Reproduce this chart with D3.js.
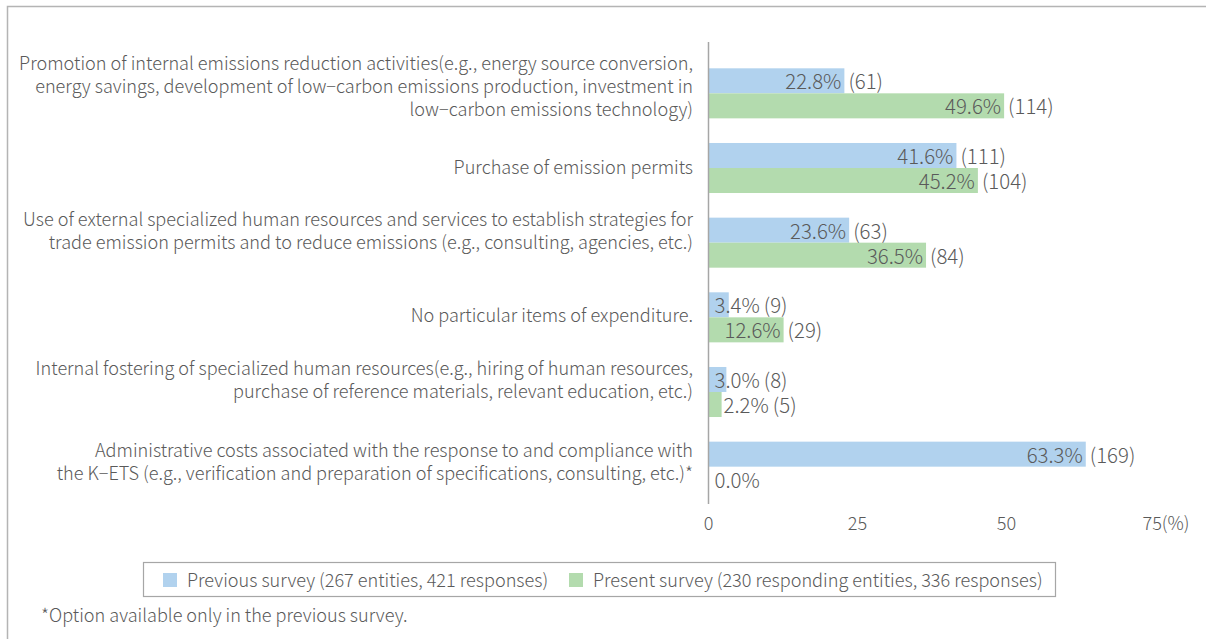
<!DOCTYPE html>
<html>
<head>
<meta charset="utf-8">
<script src="https://cdn.jsdelivr.net/npm/d3@7"></script>
<style>
  html, body { margin: 0; padding: 0; background: #fff; }
  svg { display: block; }
  text { font-family: "Noto Sans CJK KR", "Noto Sans", sans-serif; font-weight: 300; fill: #5a5a5a; }
</style>
</head>
<body>
<svg id="chart" width="1206" height="639"></svg>
<script>
// Expenditure items, top to bottom (each entry is a list of label lines)
const categories = [
  ["Promotion of internal emissions reduction activities(e.g., energy source conversion,",
   "energy savings, development of low\u2212carbon emissions production, investment in",
   "low\u2212carbon emissions technology)"],
  ["Purchase of emission permits"],
  ["Use of external specialized human resources and services to establish strategies for",
   "trade emission permits and to reduce emissions (e.g., consulting, agencies, etc.)"],
  ["No particular items of expenditure."],
  ["Internal fostering of specialized human resources(e.g., hiring of human resources,",
   "purchase of reference materials, relevant education, etc.)"],
  ["Administrative costs associated with the response to and compliance with",
   "the K\u2212ETS (e.g., verification and preparation of specifications, consulting, etc.)*"]
];

const seriesNames = [
  "Previous survey (267 entities, 421 responses)",
  "Present survey (230 responding entities, 336 responses)"
];

// Share of responses (%) and response counts
const previousPct   = [22.8, 41.6, 23.6, 3.4, 3.0, 63.3];
const previousCount = [61, 111, 63, 9, 8, 169];
const presentPct    = [49.6, 45.2, 36.5, 12.6, 2.2, 0.0];
const presentCount  = [114, 104, 84, 29, 5, null];

const xTicks = [0, 25, 50, 75];
const footnote = "*Option available only in the previous survey.";

const colors = ["#b1d2ee", "#b3dbae"];

const svg = d3.select("#chart");

// Outer frame (top and left edges)
svg.append("path")
  .attr("d", "M7.5,639 V6.5 H1206")
  .attr("fill", "none")
  .attr("stroke", "#b4b4b4")
  .attr("stroke-width", 1.5);

const x = d3.scaleLinear().domain([0, 75]).range([708.5, 1155.5]);
const y = d3.scaleBand().domain(d3.range(categories.length)).range([56, 504]).paddingInner(0.33).paddingOuter(0.165);
const sub = d3.scaleBand().domain([0, 1]).range([0, y.bandwidth()]);

const series = [
  { name: seriesNames[0], pct: previousPct, count: previousCount, color: colors[0] },
  { name: seriesNames[1], pct: presentPct, count: presentCount, color: colors[1] }
];

const fs = 18.1;      // category, axis, legend text
const vfs = 20.4;     // value labels

// Bars
series.forEach((s, si) => {
  svg.append("g").selectAll("rect")
    .data(s.pct)
    .join("rect")
    .attr("x", x(0))
    .attr("y", (d, i) => y(i) + sub(si))
    .attr("width", d => x(d) - x(0))
    .attr("height", sub.bandwidth())
    .attr("fill", s.color);
});

// Vertical axis line
svg.append("line")
  .attr("x1", x(0)).attr("x2", x(0))
  .attr("y1", 42).attr("y2", 504)
  .attr("stroke", "#a6a6a6")
  .attr("stroke-width", 1.5);

// Value labels: percentage at the bar end, response count after it
series.forEach((s, si) => {
  const g = svg.append("g");
  s.pct.forEach((v, i) => {
    const cy = y(i) + sub(si) + sub.bandwidth() / 2 + 8.5;
    const end = x(v);
    const w = end - x(0);
    const t = g.append("text")
      .attr("y", cy)
      .attr("font-size", vfs)
      .text(v.toFixed(1) + "%");
    const tw = t.node().getComputedTextLength();
    let tx;
    if (tw + 8 < w) {
      tx = end - 3 - tw;
    } else if (w >= 15) {
      tx = x(0) + 6;
    } else {
      tx = Math.max(end + 2, x(0) + 6);
    }
    t.attr("x", tx);
    if (s.count[i] != null) {
      const after = Math.max(tx + tw, end) + 4;
      g.append("text")
        .attr("x", after)
        .attr("y", cy)
        .attr("font-size", vfs)
        .text("(" + s.count[i] + ")");
    }
  });
});

// Category labels, right-aligned next to the axis; each block is nudged
// vertically to sit where the wrapped text reads best against its bars
const lineH = 23;
const labelNudge = [-6.5, 0, -11, -1, -12, -4];
const lab = svg.append("g");
categories.forEach((lines, i) => {
  const c = y(i) + y.bandwidth() / 2;
  const first = c - (lines.length - 1) * lineH / 2 + 6 + labelNudge[i];
  lines.forEach((ln, k) => {
    lab.append("text")
      .attr("x", 693)
      .attr("y", first + k * lineH)
      .attr("text-anchor", "end")
      .attr("font-size", fs)
      .text(ln);
  });
});

// Horizontal axis tick labels
svg.append("g").selectAll("text")
  .data(xTicks)
  .join("text")
  .attr("x", d => x(d))
  .attr("y", 530)
  .attr("text-anchor", d => d === 75 ? "start" : "middle")
  .attr("dx", d => d === 75 ? -13 : 0)
  .attr("font-size", fs)
  .text(d => d === 75 ? d + "(%)" : d);

// Legend
const legend = svg.append("g");
legend.append("rect")
  .attr("x", 143.5).attr("y", 562.5)
  .attr("width", 912).attr("height", 34)
  .attr("fill", "#fff")
  .attr("stroke", "#a6a6a6")
  .attr("stroke-width", 1.2);
const lx = [163, 569];
series.forEach((s, si) => {
  legend.append("rect")
    .attr("x", lx[si]).attr("y", 573)
    .attr("width", 14).attr("height", 14)
    .attr("fill", s.color);
  legend.append("text")
    .attr("x", lx[si] + 24)
    .attr("y", 587)
    .attr("font-size", fs)
    .text(s.name);
});

// Footnote
svg.append("text")
  .attr("x", 41)
  .attr("y", 622)
  .attr("font-size", fs)
  .text(footnote);
</script>
</body>
</html>
